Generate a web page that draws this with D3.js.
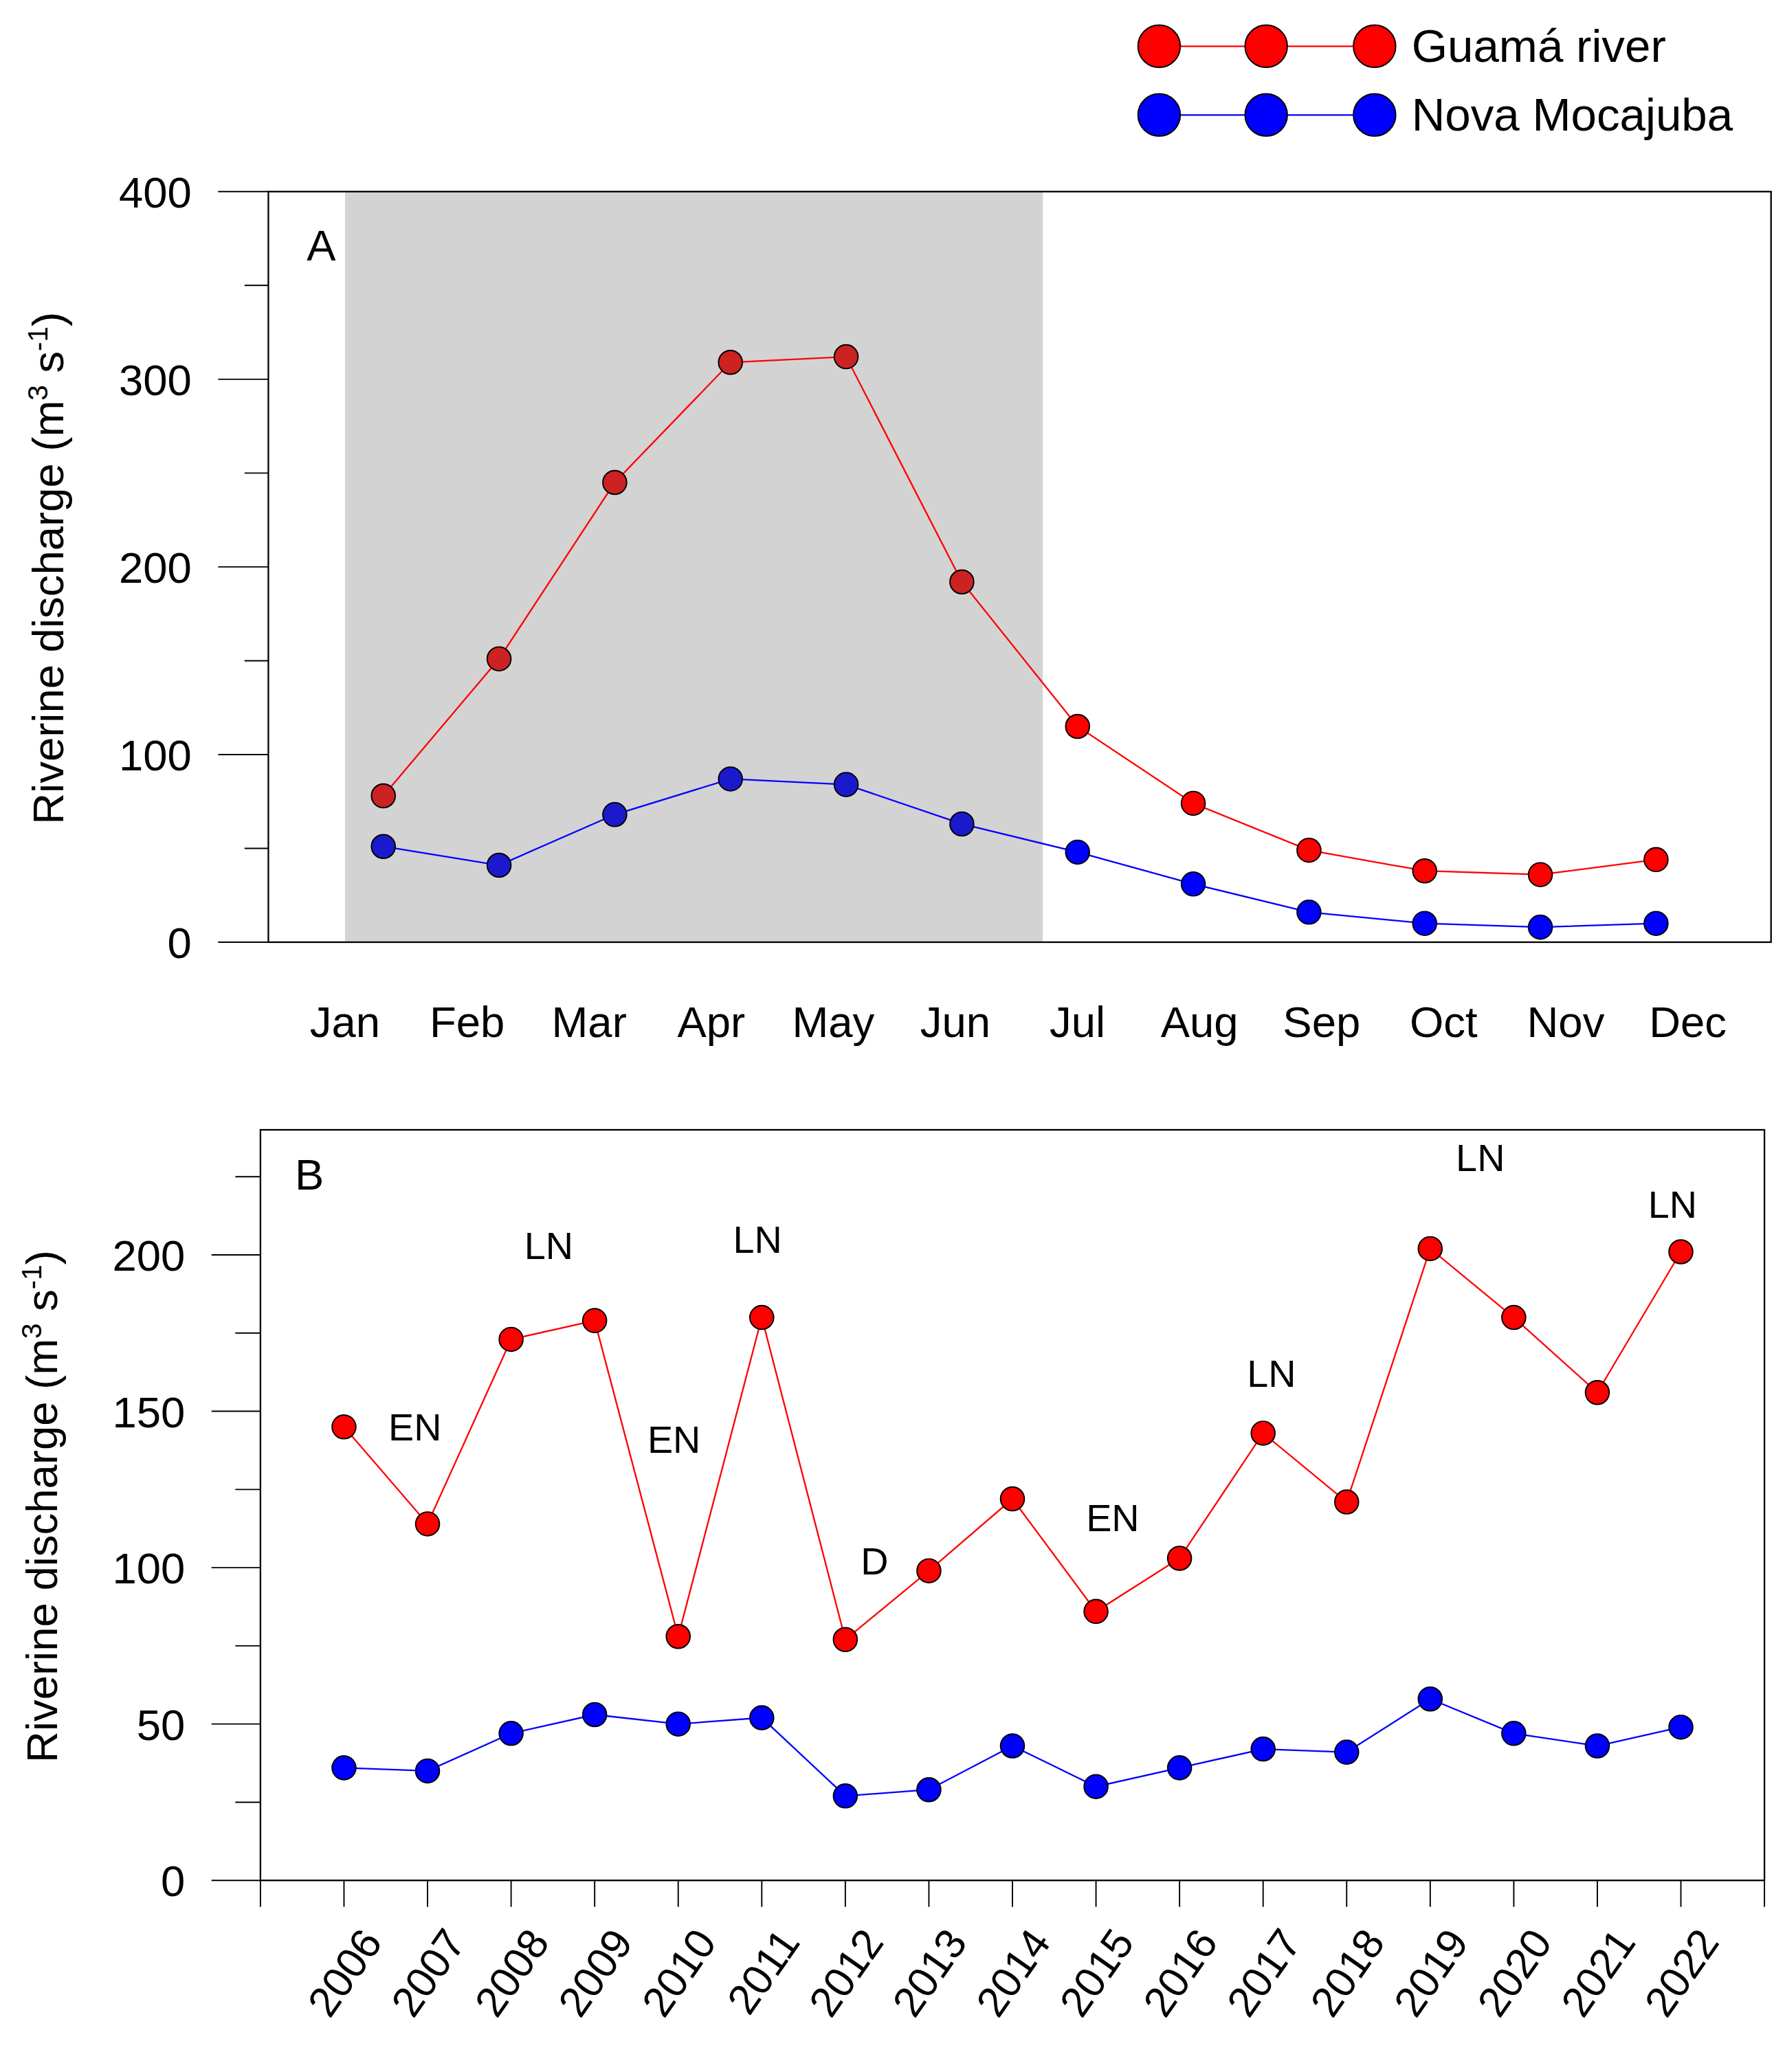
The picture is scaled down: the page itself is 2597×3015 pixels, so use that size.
<!DOCTYPE html><html><head><meta charset="utf-8">
<script src="https://cdn.jsdelivr.net/npm/d3@7"></script>
<style>body{margin:0;background:#fff}text{font-family:Arial,"Liberation Sans",sans-serif}</style></head><body>
<script>
const months=["Jan","Feb","Mar","Apr","May","Jun","Jul","Aug","Sep","Oct","Nov","Dec"];
const guamaMonthly=[78,151,245,309,312,192,115,74,49,38,36,44];
const novaMonthly=[51,41,68,87,84,63,48,31,16,10,8,10];
const years=[2006,2007,2008,2009,2010,2011,2012,2013,2014,2015,2016,2017,2018,2019,2020,2021,2022];
const guamaYearly=[145,114,173,179,78,180,77,99,122,86,103,143,121,202,180,156,201];
const novaYearly=[36,35,47,53,50,52,27,29,43,30,36,42,41,58,47,43,49];
const events=[{year:2006.85,label:"EN",v:145},{year:2009.95,label:"EN",v:141},{year:2008.45,label:"LN",v:203},{year:2010.95,label:"LN",v:205},{year:2012.35,label:"D",v:102},{year:2015.2,label:"EN",v:116},{year:2017.1,label:"LN",v:162},{year:2019.6,label:"LN",v:231},{year:2021.9,label:"LN",v:216}];
const yTicksA=[0,100,200,300,400], yTicksB=[0,50,100,150,200];

const svg=d3.select("body").append("svg").attr("width",2597).attr("height",3015).attr("viewBox","0 0 1350.5 1568");
const red="#ff0000", blue="#0000ff";

function ylabel(x,y){
 const t=svg.append("text").attr("transform",`translate(${x},${y}) rotate(-90)`).attr("text-anchor","middle").attr("font-size",33);
 t.append("tspan").text("Riverine discharge (m");
 t.append("tspan").attr("font-size",21).attr("dy",-12).text("3");
 t.append("tspan").attr("dy",12).text(" s");
 t.append("tspan").attr("font-size",21).attr("dy",-12).text("-1");
 t.append("tspan").attr("dy",12).text(")");
}
function yaxis(y,ticks,minor,left,tickLeft,minorLeft){
 const g=svg.append("g");
 minor.forEach(v=>g.append("line").attr("x1",minorLeft).attr("x2",left).attr("y1",y(v)).attr("y2",y(v)).attr("stroke","#000"));
 ticks.forEach(v=>{g.append("line").attr("x1",tickLeft).attr("x2",left).attr("y1",y(v)).attr("y2",y(v)).attr("stroke","#000");
  g.append("text").attr("x",tickLeft-20).attr("y",y(v)+12).attr("text-anchor","end").attr("font-size",33).text(v);});
}
function series(x,xs,vals,col,dark,shadeMax){
 const line=d3.line().x((d,i)=>x(xs[i])).y(d=>d.y);
 svg.append("path").attr("d",line(vals.map(v=>({y:v})))).attr("fill","none").attr("stroke",col).attr("stroke-width",1.2);
 vals.forEach((v,i)=>svg.append("circle").attr("cx",x(xs[i])).attr("cy",v).attr("r",9)
  .attr("fill",(shadeMax!=null&&i<shadeMax)?dark:col).attr("stroke","#000").attr("stroke-width",1));
}
const yA=d3.scaleLinear().domain([0,400]).range([713,145]);
const xA=d3.scaleLinear().domain([0,11]).range([290,1253]);
const xLab=d3.scaleLinear().domain([0,11]).range([261,1277]);
svg.append("rect").attr("x",261).attr("y",145).attr("width",528).attr("height",568).attr("fill","#d3d3d3");
svg.append("rect").attr("x",203).attr("y",145).attr("width",1137).attr("height",568).attr("fill","none").attr("stroke","#000").attr("stroke-width",1.2);
yaxis(yA,yTicksA,[50,150,250,350],203,165,185);
months.forEach((m,i)=>svg.append("text").attr("x",xLab(i)).attr("y",785).attr("text-anchor","middle").attr("font-size",33).text(m));
const idx=months.map((m,i)=>i);
series(xA,idx,guamaMonthly.map(yA),red,"#cc2222",6);
series(xA,idx,novaMonthly.map(yA),blue,"#1a1acc",6);
svg.append("text").attr("x",232).attr("y",197).attr("font-size",33).text("A");
ylabel(48,430);
const yB=d3.scaleLinear().domain([0,240]).range([1423,855]);
const xB=d3.scaleLinear().domain([2005,2023]).range([197,1335]);
svg.append("rect").attr("x",197).attr("y",855).attr("width",1138).attr("height",568).attr("fill","none").attr("stroke","#000").attr("stroke-width",1.2);
yaxis(yB,yTicksB,[25,75,125,175,225],197,160,178);
d3.range(2005,2024).forEach(yr=>svg.append("line").attr("x1",xB(yr)).attr("x2",xB(yr)).attr("y1",1423).attr("y2",1443).attr("stroke","#000"));
years.forEach(yr=>svg.append("text").attr("transform",`translate(${xB(yr)+30},${1470}) rotate(-55)`).attr("text-anchor","end").attr("font-size",32).text(yr));
series(xB,years,guamaYearly.map(yB),red,red,null);
series(xB,years,novaYearly.map(yB),blue,blue,null);
events.forEach(e=>svg.append("text").attr("x",xB(e.year)).attr("y",yB(e.v)+10).attr("text-anchor","middle").attr("font-size",29).text(e.label));
svg.append("text").attr("x",223).attr("y",900).attr("font-size",33).text("B");
ylabel(43,1140);
[[35,red,"Guamá river"],[87,blue,"Nova Mocajuba"]].forEach(([y,c,t])=>{
 svg.append("line").attr("x1",877).attr("x2",1040).attr("y1",y).attr("y2",y).attr("stroke",c).attr("stroke-width",1.2);
 [877,958,1040].forEach(x=>svg.append("circle").attr("cx",x).attr("cy",y).attr("r",16).attr("fill",c).attr("stroke","#000"));
 svg.append("text").attr("x",1068).attr("y",y+12).attr("font-size",35).text(t);
});
</script></body></html>
